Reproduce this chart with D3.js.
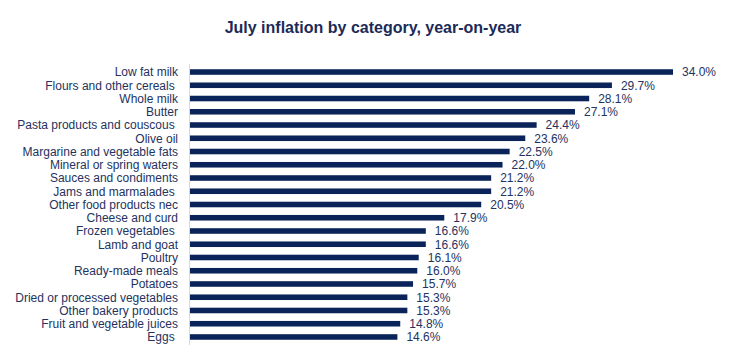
<!DOCTYPE html>
<html><head><meta charset="utf-8">
<script src="https://cdn.jsdelivr.net/npm/d3@7"></script>
<style>
body{margin:0;background:#fff;}
svg{display:block;font-family:"Liberation Sans",Arial,sans-serif;}
</style></head><body>
<svg id="c" width="747" height="354"></svg>
<script>
const categories = ["Low fat milk","Flours and other cereals ","Whole milk","Butter","Pasta products and couscous ","Olive oil","Margarine and vegetable fats","Mineral or spring waters","Sauces and condiments","Jams and marmalades ","Other food products nec","Cheese and curd","Frozen vegetables ","Lamb and goat","Poultry","Ready-made meals","Potatoes","Dried or processed vegetables","Other bakery products","Fruit and vegetable juices","Eggs "];
const values = [34.0,29.7,28.1,27.1,24.4,23.6,22.5,22.0,21.2,21.2,20.5,17.9,16.6,16.6,16.1,16.0,15.7,15.3,15.3,14.8,14.6];
const title = "July inflation by category, year-on-year";

const svg = d3.select("#c");
const x0 = 190;
const x = d3.scaleLinear().domain([0, 34]).range([x0, 673]);
const y = d3.scaleBand().domain(categories).range([65.4, 343.6]).paddingInner(0.58).paddingOuter(0.29);

svg.append("text").attr("x", 373).attr("y", 33).attr("text-anchor", "middle")
  .attr("font-size", 16).attr("font-weight", "bold").attr("fill", "#1c2a57").text(title);

svg.append("line").attr("x1", x0 - 0.5).attr("x2", x0 - 0.5).attr("y1", 64).attr("y2", 345)
  .attr("stroke", "#d9d9d9").attr("stroke-width", 1);

const rows = categories.map((c, i) => ({c, v: values[i]}));

svg.selectAll("rect.bar").data(rows).enter().append("rect").attr("class","bar")
  .attr("x", x0).attr("y", d => y(d.c)).attr("width", d => x(d.v) - x0).attr("height", y.bandwidth())
  .attr("fill", "#0a2459");

svg.selectAll("text.lab").data(rows).enter().append("text").attr("class","lab")
  .attr("x", 178).attr("y", d => y(d.c) + y.bandwidth()/2).attr("dy", "0.36em")
  .attr("text-anchor", "end").attr("font-size", 12).attr("fill", "#243260")
  .style("white-space", "pre").text(d => d.c);

svg.selectAll("text.val").data(rows).enter().append("text").attr("class","val")
  .attr("x", d => x(d.v) + 9).attr("y", d => y(d.c) + y.bandwidth()/2).attr("dy", "0.36em")
  .attr("font-size", 12).attr("fill", "#243260").text(d => d.v.toFixed(1) + "%");
</script>
</body></html>
